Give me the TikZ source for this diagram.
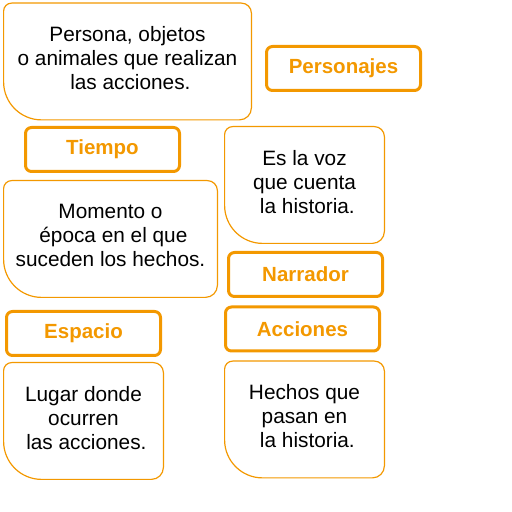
\documentclass[tikz,border=0pt]{standalone}
\usepackage{fontspec}
\setmainfont{Liberation Sans}
\usetikzlibrary{calc}
\definecolor{naranja}{RGB}{243,152,0}
% contorno de una caja de definicion
\newcommand\marco[1]{%
  \draw[naranja, line width=1.2pt] ([yshift=38pt]#1.south west)
    -- ([yshift=-8pt]#1.north west) arc[start angle=180, end angle=90, radius=8pt]
    -- ([xshift=-10pt]#1.north east) arc[start angle=90, end angle=0, radius=10pt]
    -- ([yshift=12pt]#1.south east) arc[start angle=0, end angle=-90, radius=12pt]
    -- ([xshift=38pt]#1.south west) arc[start angle=270, end angle=180, radius=38pt]
    -- cycle;}

\begin{document}
\begin{tikzpicture}[x=1pt, y=1pt,
  etiqueta/.style={draw=naranja, line width=3pt, rounded corners=6pt,
    minimum width=154pt, minimum height=44pt, text=naranja,
    font=\fontsize{20.5}{24}\selectfont\bfseries},
  defi/.style={align=center, outer sep=0pt, minimum height=116.8pt, text depth=7pt,
    font=\fontsize{20.8}{24}\selectfont}]
\useasboundingbox (0,0) rectangle (512,512);
% definiciones
\node[defi, minimum width=247.8pt] (personas) at (127.5,450.5) {Persona, objetos\\o animales que realizan\\\ las acciones.};
\node[defi, minimum width=159.8pt] (voz) at (304.5,327) {Es la voz\\que cuenta\\\ la historia.};
\node[defi, minimum width=213.8pt] (momento) at (110.5,273) {Momento o\\\ época en el que\\suceden los hechos.};
\node[defi, minimum width=159.8pt] (lugar) at (83.5,91) {Lugar donde\\ocurren\\\ las acciones.};
\node[defi, minimum width=159.8pt] (hechos) at (304.5,92.5) {Hechos que\\pasan en\\\ la historia.};
\foreach \d in {personas, voz, momento, lugar, hechos} {\marco{\d}}
% etiquetas
\node[etiqueta] (personajes) at (343.5,443.5) {Personajes};
\node[etiqueta] (tiempo) at (102.5,362.5) {Tiempo};
\node[etiqueta] (narrador) at (305.5,237.5) {Narrador};
\node[etiqueta] (espacio) at (83.5,178.5) {Espacio};
\node[etiqueta] (acciones) at (302.5,183) {Acciones};
\end{tikzpicture}
\end{document}
